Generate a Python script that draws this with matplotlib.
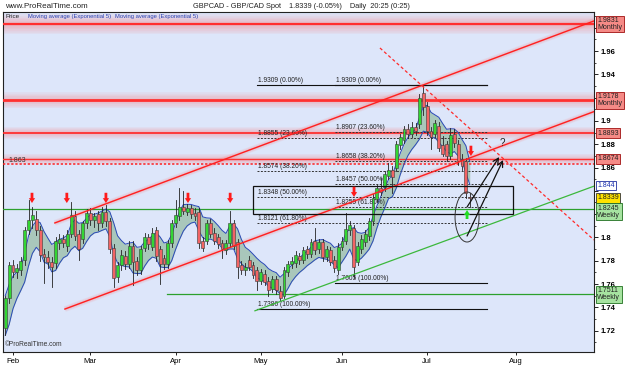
import numpy as np
import pandas as pd
import matplotlib
matplotlib.use('Agg')
import matplotlib.pyplot as plt
from matplotlib.patches import Rectangle, Ellipse
from matplotlib.transforms import blended_transform_factory

FONT = ['Liberation Sans', 'DejaVu Sans']
plt.rcParams['font.family'] = FONT

# ---------------- data ----------------
opens = [1.722, 1.748, 1.776, 1.770, 1.772, 1.781, 1.806, 1.815, 1.816, 1.806,
         1.786, 1.783, 1.779, 1.778, 1.795, 1.799, 1.793, 1.803, 1.818, 1.803,
         1.799, 1.812, 1.821, 1.815, 1.820, 1.812, 1.822, 1.814, 1.791, 1.766,
         1.776, 1.784, 1.777, 1.793, 1.780, 1.772, 1.791, 1.800, 1.792, 1.806,
         1.790, 1.782, 1.777, 1.795, 1.812, 1.818, 1.826, 1.822, 1.825, 1.821,
         1.822, 1.797, 1.797, 1.812, 1.804, 1.800, 1.795, 1.789, 1.795, 1.812,
         1.796, 1.776, 1.772, 1.781, 1.776, 1.772, 1.763, 1.769, 1.763, 1.756,
         1.764, 1.754, 1.750, 1.770, 1.777, 1.778, 1.784, 1.781, 1.790, 1.786,
         1.797, 1.790, 1.796, 1.783, 1.789, 1.781, 1.772, 1.792, 1.797, 1.806,
         1.808, 1.779, 1.790, 1.796, 1.801, 1.814, 1.833, 1.842, 1.843, 1.853,
         1.858, 1.860, 1.879, 1.884, 1.893, 1.889, 1.895, 1.897, 1.924, 1.913,
         1.891, 1.889, 1.896, 1.879, 1.880, 1.870, 1.889, 1.880, 1.867, 1.866,
         1.8348]
highs = [1.750, 1.779, 1.781, 1.777, 1.783, 1.809, 1.832, 1.826, 1.823, 1.810,
         1.790, 1.788, 1.783, 1.800, 1.803, 1.802, 1.806, 1.830, 1.823, 1.806,
         1.814, 1.824, 1.825, 1.821, 1.823, 1.826, 1.828, 1.817, 1.794, 1.779,
         1.789, 1.788, 1.797, 1.797, 1.783, 1.793, 1.804, 1.803, 1.808, 1.809,
         1.793, 1.785, 1.798, 1.815, 1.832, 1.842, 1.840, 1.829, 1.828, 1.825,
         1.825, 1.800, 1.815, 1.816, 1.808, 1.803, 1.798, 1.798, 1.823, 1.815,
         1.799, 1.780, 1.778, 1.784, 1.779, 1.775, 1.773, 1.772, 1.766, 1.767,
         1.767, 1.758, 1.775, 1.780, 1.783, 1.788, 1.787, 1.792, 1.793, 1.799,
         1.808, 1.799, 1.799, 1.793, 1.792, 1.784, 1.795, 1.800, 1.821, 1.814,
         1.811, 1.796, 1.802, 1.806, 1.817, 1.837, 1.845, 1.851, 1.857, 1.864,
         1.861, 1.883, 1.889, 1.896, 1.897, 1.899, 1.898, 1.923, 1.9309, 1.916,
         1.895, 1.901, 1.899, 1.887, 1.883, 1.894, 1.893, 1.884, 1.872, 1.868,
         1.838]
lows = [1.716, 1.744, 1.766, 1.765, 1.768, 1.776, 1.803, 1.808, 1.802, 1.780,
        1.761, 1.774, 1.757, 1.774, 1.790, 1.792, 1.788, 1.800, 1.798, 1.781,
        1.795, 1.808, 1.811, 1.809, 1.806, 1.809, 1.810, 1.787, 1.757, 1.762,
        1.772, 1.773, 1.774, 1.759, 1.768, 1.769, 1.788, 1.790, 1.789, 1.780,
        1.760, 1.773, 1.774, 1.792, 1.809, 1.815, 1.820, 1.819, 1.817, 1.815,
        1.791, 1.788, 1.794, 1.800, 1.794, 1.791, 1.782, 1.786, 1.792, 1.790,
        1.765, 1.769, 1.768, 1.772, 1.765, 1.755, 1.760, 1.759, 1.750, 1.753,
        1.751, 1.746, 1.748, 1.767, 1.774, 1.775, 1.777, 1.778, 1.782, 1.783,
        1.786, 1.787, 1.780, 1.780, 1.776, 1.770, 1.769, 1.789, 1.794, 1.802,
        1.765, 1.776, 1.787, 1.793, 1.798, 1.811, 1.830, 1.836, 1.840, 1.850,
        1.838, 1.857, 1.876, 1.881, 1.885, 1.886, 1.888, 1.894, 1.905, 1.888,
        1.876, 1.886, 1.874, 1.870, 1.866, 1.867, 1.878, 1.862, 1.858, 1.834,
        1.826]
closes = [1.748, 1.776, 1.770, 1.774, 1.780, 1.806, 1.815, 1.819, 1.806, 1.785,
          1.783, 1.779, 1.775, 1.797, 1.799, 1.795, 1.803, 1.819, 1.801, 1.790,
          1.812, 1.821, 1.815, 1.818, 1.812, 1.822, 1.814, 1.790, 1.765, 1.776,
          1.785, 1.777, 1.793, 1.779, 1.772, 1.790, 1.800, 1.794, 1.804, 1.784,
          1.777, 1.777, 1.795, 1.812, 1.819, 1.826, 1.823, 1.825, 1.820, 1.818,
          1.795, 1.791, 1.812, 1.803, 1.797, 1.794, 1.790, 1.795, 1.812, 1.793,
          1.775, 1.772, 1.775, 1.775, 1.768, 1.763, 1.770, 1.762, 1.755, 1.764,
          1.7545, 1.748, 1.772, 1.777, 1.780, 1.785, 1.781, 1.789, 1.786, 1.796,
          1.789, 1.796, 1.783, 1.790, 1.779, 1.774, 1.792, 1.797, 1.807, 1.811,
          1.775, 1.793, 1.799, 1.803, 1.814, 1.834, 1.842, 1.839, 1.854, 1.858,
          1.852, 1.880, 1.886, 1.893, 1.889, 1.895, 1.891, 1.920, 1.912, 1.891,
          1.886, 1.898, 1.877, 1.872, 1.870, 1.888, 1.881, 1.866, 1.861, 1.838,
          1.8339]

start_date = '2009-01-29'
n_axis_days = 153
month_labels = ['Feb', 'Mar', 'Apr', 'May', 'Jun', 'Jul', 'Aug']
y_ticks = [1.72, 1.74, 1.76, 1.78, 1.80, 1.82, 1.84, 1.86, 1.88, 1.90, 1.92, 1.94, 1.96, 1.98]
y_ticks_hidden = [1.82, 1.84, 1.92, 1.98]   # covered by the price boxes

monthly_levels = [1.9831, 1.9178]
red_levels = [1.8893, 1.8674]
dotted_level = 1.863
weekly_levels = [1.8245, 1.7511]
weekly2_start = 41.8
current_price = 1.8339
trend_value = 1.844

fib1_levels = [1.9309, 1.8855, 1.8574, 1.8348, 1.8121, 1.7386]
fib1_labels = ['1.9309 (0.00%)', '1.8855 (23.60%)', '1.8574 (38.20%)',
               '1.8348 (50.00%)', '1.8121 (61.80%)', '1.7386 (100.00%)']
fib1_span = [65.0, 124.5]
fib2_levels = [1.9309, 1.8907, 1.8658, 1.8457, 1.8259, 1.7605]
fib2_labels = ['1.9309 (0.00%)', '1.8907 (23.60%)', '1.8658 (38.20%)',
               '1.8457 (50.00%)', '1.8259 (61.80%)', '1.7605 (100.00%)']
fib2_span = [85.2, 124.5]

channel_upper = [(12.8, 1.8124), (152.1, 1.9858)]
channel_lower = [(15.4, 1.7385), (152.1, 1.9080)]
green_trend = [(64.5, 1.7370), (152.1, 1.8440)]
red_dashed = [(96.8, 1.9626), (152.1, 1.7978)]

zone_box = [64.0, 131.2, 1.8201, 1.8441]   # x0, x1, y0, y1
ellipse_geo = [119.3, 1.8175, 6.2, 0.0429]
black_arrows = [((119.3, 1.8261), (127.6, 1.8690)), ((119.3, 1.8012), (128.6, 1.8664))]
question_pos = (128.4, 1.8767)
red_arrow_x = [6.9, 15.9, 26.0, 47.2, 58.1, 90.1, 120.3]
red_arrow_tip = [1.8295, 1.8295, 1.8295, 1.8295, 1.8295, 1.8347, 1.8699]
green_arrow = (119.3, 1.8158, 1.8235)

# ---------------- figure ----------------
W, H = 625, 375
fig = plt.figure(figsize=(W / 100, H / 100), dpi=100, facecolor='white')
ax = fig.add_axes([3 / W, 1 - 352 / H, 591 / W, 340 / H])
ax.set_facecolor('#dde6fa')
ax.set_xlim(-0.59, 152.1)
ax.set_ylim(1.70163, 1.99348)

n = len(closes)
idx = np.arange(n)
dates_axis = pd.bdate_range(start_date, periods=n_axis_days)
months = dates_axis.month
tick_pos = [i for i in range(1, n_axis_days) if months[i] != months[i - 1]]
ax.set_xticks(tick_pos[:len(month_labels)])
ax.set_xticklabels(month_labels)

ax.yaxis.tick_right()
ax.set_yticks(y_ticks)
ax.set_yticklabels(['' if any(abs(v - h) < 1e-9 for h in y_ticks_hidden) else '{:g}'.format(v)
                    for v in y_ticks])
ax.set_yticks(np.arange(1.71, 1.995, 0.01), minor=True)
ax.tick_params(axis='y', which='major', labelsize=5.5, length=3, pad=1.5, width=0.6)
ax.tick_params(axis='y', which='minor', length=1.5, width=0.5)
ax.tick_params(axis='x', labelsize=5.5, length=2, pad=2, width=0.6)
for lbl in ax.get_yticklabels():
    lbl.set_fontweight('bold')
for sp in ax.spines.values():
    sp.set_linewidth(0.8)
    sp.set_color('#222222')

px = 0.72  # points per pixel

def glow_h(y, core_lw, glow_px, color='#ff3030', alpha=0.07):
    for k in range(1, 7):
        ax.axhline(y, color='#ff7070', lw=glow_px * 2 * px * k / 6, alpha=alpha,
                   zorder=1, solid_capstyle='butt')
    ax.axhline(y, color=color, lw=core_lw, zorder=3)

def glow_seg(p0, p1, core_lw, glow_px, color='#ff2020', z=6):
    xs = [p0[0], p1[0]]
    ys = [p0[1], p1[1]]
    for k in range(1, 5):
        ax.plot(xs, ys, color='#ff7070', lw=glow_px * 2 * px * k / 4, alpha=0.09,
                zorder=1, solid_capstyle='butt')
    ax.plot(xs, ys, color=color, lw=core_lw, zorder=z)

# horizontal lines
glow_h(monthly_levels[0], 1.6, 10)
glow_h(monthly_levels[1], 2.0, 8)
glow_h(red_levels[0], 1.3, 6)
glow_h(red_levels[1], 1.0, 5)
ax.axhline(dotted_level, color='#ff2020', lw=1.1, ls=(0, (1.5, 1.2)), zorder=3)
ax.axhline(weekly_levels[0], color='#2ca02c', lw=0.9, zorder=3)
ax.plot([weekly2_start, 152.1], [weekly_levels[1]] * 2, color='#2ca02c', lw=0.9, zorder=3)

# EMA envelope
ema_h = pd.Series(highs).ewm(span=5, adjust=False).mean().values
ema_l = pd.Series(lows).ewm(span=5, adjust=False).mean().values
ax.fill_between(idx, ema_l, ema_h, color='#a9c7bb', zorder=2, lw=0)
ax.plot(idx, ema_h, color='#2a48b8', lw=0.7, zorder=4)
ax.plot(idx, ema_l, color='#2a48b8', lw=0.7, zorder=4)

# fib lines
def draw_fib(levels, labels, span):
    for k, (lv, lb) in enumerate(zip(levels, labels)):
        solid = k in (0, len(levels) - 1)
        ax.plot(span, [lv, lv], color='#111111' if solid else '#333333',
                lw=0.8 if solid else 0.7, ls='-' if solid else (0, (2, 1.5)), zorder=3)
        ax.text(span[0] + 0.3, lv + 0.0008, lb, fontsize=4.8, color='#222222',
                va='bottom', ha='left', zorder=5)

draw_fib(fib1_levels, fib1_labels, fib1_span)
draw_fib(fib2_levels, fib2_labels, fib2_span)

# candles
for i in range(n):
    o, hi, lo, c = opens[i], highs[i], lows[i], closes[i]
    ax.plot([i, i], [lo, hi], color='#222222', lw=0.6, zorder=5)
    up = c >= o
    ax.add_patch(Rectangle((i - 0.37, min(o, c)), 0.74, max(abs(c - o), 0.0004),
                           facecolor='#33d633' if up else '#f26464',
                           edgecolor='#3a3a3a', lw=0.4, zorder=5.5))

# trend lines
glow_seg(*channel_upper, 1.0, 3)
glow_seg(*channel_lower, 1.0, 3)
ax.plot([green_trend[0][0], green_trend[1][0]], [green_trend[0][1], green_trend[1][1]],
        color='#3cb83c', lw=0.9, zorder=6)
ax.plot([red_dashed[0][0], red_dashed[1][0]], [red_dashed[0][1], red_dashed[1][1]],
        color='#ff2a2a', lw=0.9, ls=(0, (2.5, 2)), zorder=6)

# zone rectangle & ellipse
ax.add_patch(Rectangle((zone_box[0], zone_box[2]), zone_box[1] - zone_box[0],
                       zone_box[3] - zone_box[2], fill=False, ec='#111111', lw=0.9, zorder=7))
ax.add_patch(Ellipse((ellipse_geo[0], ellipse_geo[1]), ellipse_geo[2], ellipse_geo[3],
                     fill=False, ec='#333333', lw=0.7, zorder=7))

for (p0, p1) in black_arrows:
    ax.annotate('', xy=p1, xytext=p0,
                arrowprops=dict(arrowstyle='->,head_length=0.4,head_width=0.2',
                                color='#111111', lw=0.9, shrinkA=0, shrinkB=0), zorder=8)
ax.text(question_pos[0], question_pos[1], '?', fontsize=7, color='#222222',
        ha='center', va='bottom', zorder=8)

# red down arrows / green up arrow
for xa, tip in zip(red_arrow_x, red_arrow_tip):
    ax.annotate('', xy=(xa, tip), xytext=(xa, tip + 0.0088),
                arrowprops=dict(arrowstyle='simple,head_length=0.7,head_width=0.9,tail_width=0.4',
                                fc='#ff1a1a', ec='none', lw=0, mutation_scale=5,
                                shrinkA=0, shrinkB=0), zorder=8)
ax.annotate('', xy=(green_arrow[0], green_arrow[2]), xytext=(green_arrow[0], green_arrow[1]),
            arrowprops=dict(arrowstyle='simple,head_length=0.7,head_width=0.9,tail_width=0.4',
                            fc='#22dd22', ec='none', lw=0, mutation_scale=5,
                            shrinkA=0, shrinkB=0), zorder=8)

# in-plot texts
bt = blended_transform_factory(ax.transAxes, ax.transData)
ax.text(0.01, dotted_level + 0.0026, '{:g}'.format(dotted_level), transform=bt,
        fontsize=5, color='#333333', va='center', ha='left', zorder=8)
ax.text(0.0034, 0.988, 'Price', transform=ax.transAxes, fontsize=4.5, color='#222222', va='center')
ax.text(0.0423, 0.988, 'Moving average (Exponential 5)', transform=ax.transAxes, fontsize=4.2,
        color='#2a3fb0', va='center')
ax.text(0.190, 0.988, 'Moving average (Exponential 5)', transform=ax.transAxes, fontsize=4.2,
        color='#2a3fb0', va='center')
ax.text(0.003, 0.012, '©ProRealTime.com', transform=ax.transAxes, fontsize=4.8,
        color='#333333', va='bottom', ha='left')

# right-side price labels
def side_label(y, txt, fc, ec, tc='#222222'):
    ax.text(1.0055, y, txt, transform=bt, fontsize=5, color=tc, va='center', ha='left',
            linespacing=1.0, clip_on=False, zorder=20,
            bbox=dict(boxstyle='square,pad=0.2', fc=fc, ec=ec, lw=0.6))

side_label(monthly_levels[0], '{:.4f}\nMonthly'.format(monthly_levels[0]), '#f58a86', '#a01010')
side_label(monthly_levels[1], '{:.4f}\nMonthly'.format(monthly_levels[1]), '#f58a86', '#a01010')
side_label(red_levels[0], '{:.4f}'.format(red_levels[0]), '#f58a86', '#a01010')
side_label(red_levels[1], '{:.4f}'.format(red_levels[1]), '#f58a86', '#a01010')
side_label(trend_value + 0.0006, '{:g}'.format(trend_value), 'white', '#2030a0', tc='#1a2fb0')
side_label(current_price, '{:.4f}'.format(current_price), '#ffe200', '#333333')
side_label(weekly_levels[0] - 0.0025, '{:.4f}\nWeekly'.format(weekly_levels[0]), '#a6e3a0', '#207020')
side_label(weekly_levels[1], '{:.4f}\nWeekly'.format(weekly_levels[1]), '#a6e3a0', '#207020')

# header
fig.text(5 / W, 1 - 6 / H, 'www.ProRealTime.com', fontsize=5.8, va='center', ha='left', color='#222222')
fig.text(301 / W, 1 - 6 / H, 'GBPCAD - GBP/CAD Spot    1.8339 (-0.05%)    Daily  20:25 (0:25)',
         fontsize=5.3, va='center', ha='center', color='#222222')

fig.savefig('out.png', dpi=100, facecolor='white')
